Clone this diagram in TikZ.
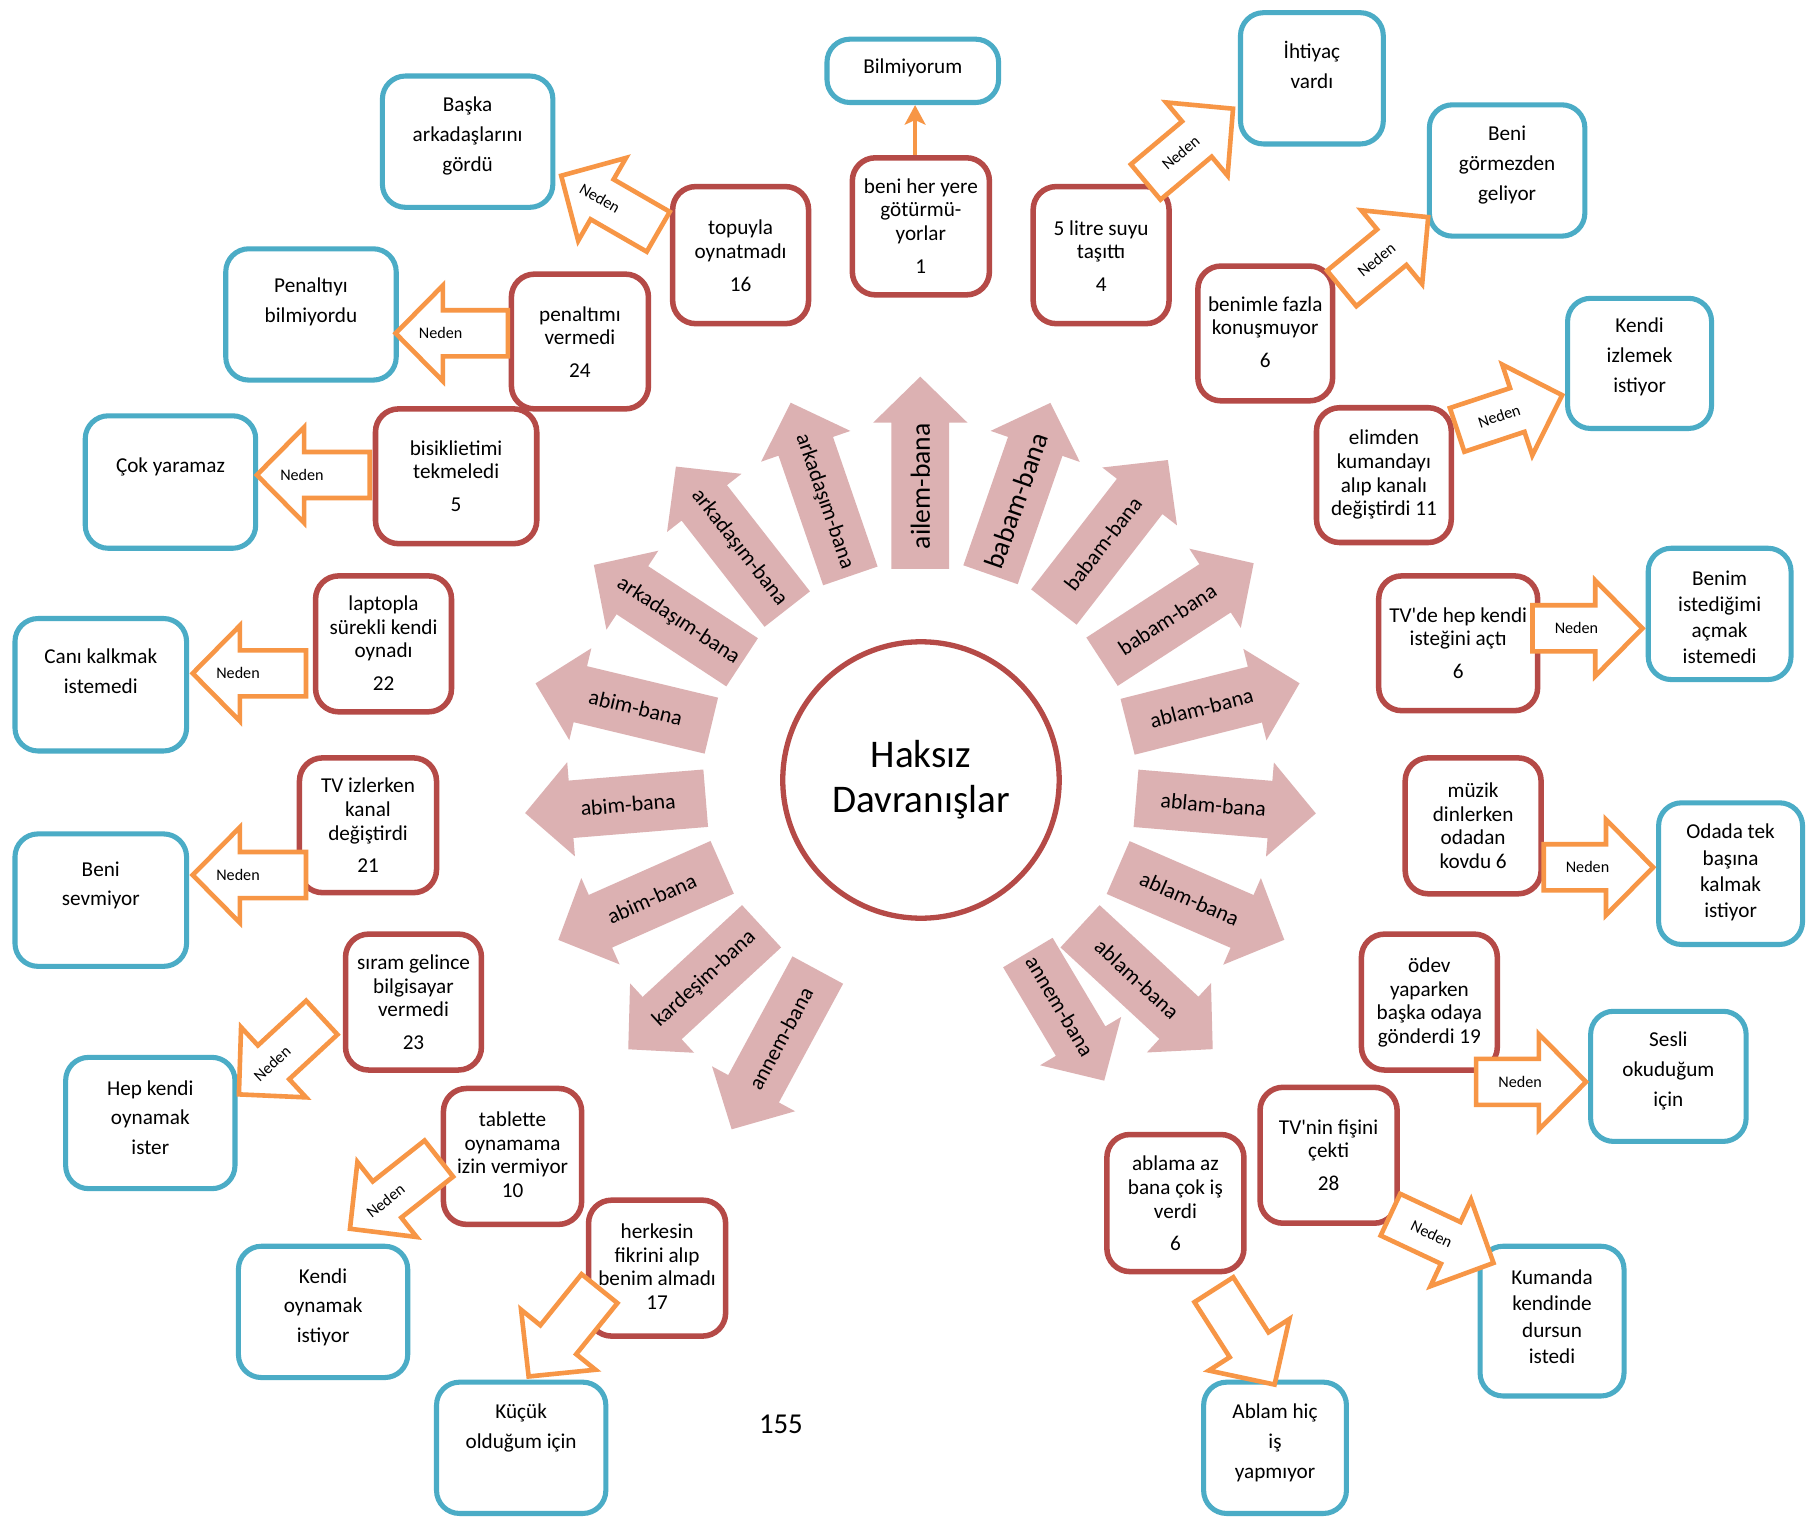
\documentclass[tikz,border=0pt]{standalone}
\usepackage{fontspec}
\setmainfont{Carlito}
\newfontfamily\carlplain{Carlito}
\newcommand{\apos}{{\carlplain'}}
\usetikzlibrary{fit,arrows.meta,calc}
\definecolor{rboxc}{RGB}{181,74,71}
\definecolor{bboxc}{RGB}{75,172,198}
\definecolor{orc}{RGB}{247,150,70}
\definecolor{pkc}{RGB}{220,177,178}
\tikzset{
 redbox/.style={draw=rboxc, line width=2.4pt, rounded corners=10pt, fill=white, inner sep=0pt},
 bluebox/.style={draw=bboxc, line width=2.2pt, rounded corners=10pt, fill=white, inner sep=0pt},
 rtxt/.style={align=center, inner sep=0pt, font=\fontsize{9.2}{10.25}\selectfont},
 btxt/.style={align=center, inner sep=0pt},
 pinkbody/.style={fill=pkc},
 orbody/.style={draw=orc, fill=white, line width=2pt, line join=miter},
 ptxt/.style={font=\fontsize{9.5}{11}\selectfont},
 pbig/.style={font=\fontsize{12}{14}\selectfont},
 otxt/.style={font=\fontsize{7}{8}\selectfont},
}
% block arrow: name, path style, text style, base x, base y, angle, length, text position, text
\newcommand{\blockarr}[9]{%
  \begin{scope}[shift={(#4,#5)},rotate=#6]
    \path[#2] (0,-\bhw) -- ({#7-\hdl},-\bhw) -- ({#7-\hdl},-\hhw) -- (#7,0) -- ({#7-\hdl},\hhw) -- ({#7-\hdl},\bhw) -- (0,\bhw) -- cycle;
    \node[transform shape,inner sep=0pt,#3] (#1) at ({#8*#7},0) {#9};
  \end{scope}}
\newcommand{\redbx}[7]{%
  \node[redbox,fit={({#2+2},{#3+2}) ({#4-2},{#5-2})}] (#1) {};
  \node[rtxt] (#1t) at ({(#2+#4)/2},#6) {#7};}
\newcommand{\bluebx}[8][13]{%
  \node[bluebox,fit={({#3+2},{#4+2}) ({#5-2},{#6-2})}] (#2) {};
  \node[btxt,font=\fontsize{9.2}{#1}\selectfont] (#2t) at ({(#3+#5)/2},#7) {#8};}
\begin{document}
\begin{tikzpicture}[x=0.5pt,y=-0.5pt]
\fill[white] (0,0) rectangle (1568,1318);
\useasboundingbox (0,0) rectangle (1568,1318);
% pink radial arrows
\def\bhw{25}\def\hhw{41}\def\hdl{40}
\blockarr{p1}{pinkbody}{pbig}{799}{494}{90}{167}{0.43}{ailem-bana}
\blockarr{p2}{pinkbody}{pbig}{860}{499}{70.8}{158}{0.43}{babam-bana}
\blockarr{p3}{pinkbody}{ptxt}{915}{527}{52.2}{161.5}{0.43}{babam-bana}
\blockarr{p4}{pinkbody}{ptxt}{956.8}{574.5}{33}{157}{0.43}{babam-bana}
\blockarr{p5}{pinkbody}{ptxt}{979}{631}{14.2}{154}{0.43}{ablam-bana}
\blockarr{p6}{pinkbody}{ptxt}{986.3}{693.1}{-4.8}{156.7}{0.43}{ablam-bana}
\blockarr{p7}{pinkbody}{ptxt}{970.8}{753.2}{-23.5}{157.3}{0.43}{ablam-bana}
\blockarr{p8}{pinkbody}{ptxt}{937.7}{804.2}{-42.8}{157}{0.43}{ablam-bana}
\blockarr{p9}{pinkbody}{ptxt}{892.4}{827}{-59.2}{129.5}{0.42}{annem-bana}
\blockarr{p10}{pinkbody}{ptxt,rotate=180}{710}{842.2}{-118.4}{157.2}{0.43}{annem-bana}
\blockarr{p11}{pinkbody}{ptxt,rotate=180}{661.2}{804.2}{-137.3}{157.5}{0.43}{kardeşim-bana}
\blockarr{p12}{pinkbody}{ptxt,rotate=180}{627}{753}{-156.1}{155.6}{0.43}{abim-bana}
\blockarr{p13}{pinkbody}{ptxt,rotate=180}{612.7}{693}{-175.3}{157.3}{0.43}{abim-bana}
\blockarr{p14}{pinkbody}{ptxt,rotate=180}{617.6}{630}{166.5}{157}{0.43}{abim-bana}
\blockarr{p15}{pinkbody}{ptxt,rotate=180}{644.3}{575}{146.7}{154}{0.43}{arkadaşım-bana}
\blockarr{p16}{pinkbody}{ptxt,rotate=180}{683.5}{528.8}{128}{157}{0.43}{arkadaşım-bana}
\blockarr{p17}{pinkbody}{ptxt,rotate=180}{738.3}{500}{109}{159}{0.43}{arkadaşım-bana}
% centre
\node[circle, draw=rboxc, line width=2.3pt, fill=white, minimum size=120pt, inner sep=0pt, align=center, font=\fontsize{17}{19.5}\selectfont] (c) at (799.6,677.2) {Haksız\\Davranışlar};
% red boxes
\redbx{r1}{738}{135}{861}{258}{196.2}{beni her yere\\götürmü-\\yorlar\\[4pt]1}
\redbx{r2}{582}{160}{704}{283}{222.2}{topuyla\\oynatmadı\\[4pt]16}
\redbx{r3}{895}{160}{1017}{283}{222.2}{5 litre suyu\\taşıttı\\[4pt]4}
\redbx{r4}{442}{236}{565}{357}{297}{penaltımı\\vermedi\\[4pt]24}
\redbx{r5}{1038}{229}{1159}{350}{288.5}{benimle fazla\\konuşmuyor\\[4pt]6}
\redbx{r6}{324}{353}{468}{474}{413.3}{bisiklietimi\\tekmeledi\\[4pt]5}
\redbx{r7}{1141}{352}{1262}{473}{412.2}{elimden\\kumandayı\\alıp kanalı\\değiştirdi 11}
\redbx{r8}{272}{498}{394}{620}{558.5}{laptopla\\sürekli kendi\\oynadı\\[4pt]22}
\redbx{r9}{1195}{498}{1337}{619}{558.2}{TV\apos de hep kendi\\isteğini açtı\\[4pt]6}
\redbx{r10}{258}{656}{381}{777}{716.7}{TV izlerken\\kanal\\değiştirdi\\[4pt]21}
\redbx{r11}{1218}{656}{1340}{778}{716.9}{müzik\\dinlerken\\odadan\\kovdu 6}
\redbx{r12}{298}{809}{420}{931}{870.2}{sıram gelince\\bilgisayar\\vermedi\\[4pt]23}
\redbx{r13}{1180}{809}{1302}{931}{870.4}{ödev\\yaparken\\başka odaya\\gönderdi 19}
\redbx{r14}{383}{943}{507}{1065}{1002.5}{tablette\\oynamama\\izin vermiyor\\10}
\redbx{r15}{1092}{942}{1215}{1064}{1003}{TV\apos nin fişini\\çekti\\[4pt]28}
\redbx{r16}{509}{1040}{632}{1162}{1099.8}{herkesin\\fikrini alıp\\benim almadı\\17}
\redbx{r17}{959}{983}{1082}{1106}{1044.9}{ablama az\\bana çok iş\\verdi\\[4pt]6}
% blue boxes
\bluebx{b1}{716}{32}{869}{91}{58.8}{Bilmiyorum}
\bluebx{b2}{330}{64}{482}{182}{118}{Başka\\arkadaşlarını\\gördü}
\bluebx{b3}{1075}{9}{1203}{127}{56}{İhtiyaç\\vardı}
\bluebx{b4}{1239}{89}{1378}{207}{143.5}{Beni\\görmezden\\geliyor}
\bluebx{b5}{194}{214}{346}{332}{262.2}{Penaltıyı\\bilmiyordu}
\bluebx{b6}{1359}{257}{1488}{374}{310}{Kendi\\izlemek\\istiyor}
\bluebx{b7}{72}{359}{224}{478}{405.7}{Çok yaramaz}
\bluebx[11.4]{b8}{1429}{474}{1557}{592}{535.9}{Benim\\istediğimi\\açmak\\istemedi}
\bluebx{b9}{11}{535}{164}{654}{582.9}{Canı kalkmak\\istemedi}
\bluebx[11.4]{b10}{1438}{695}{1567}{822}{757.5}{Odada tek\\başına\\kalmak\\istiyor}
\bluebx{b11}{11}{722}{164}{841}{768.7}{Beni\\sevmiyor}
\bluebx{b12}{1379}{876}{1518}{993}{930}{Sesli\\okuduğum\\için}
\bluebx{b13}{55}{916}{206}{1034}{970.4}{Hep kendi\\oynamak\\ister}
\bluebx{b14}{205}{1080}{356}{1198}{1135}{Kendi\\oynamak\\istiyor}
\bluebx[11.4]{b15}{1283}{1080}{1412}{1214}{1143.2}{Kumanda\\kendinde\\dursun\\istedi}
\bluebx{b16}{377}{1198}{528}{1316}{1239.9}{Küçük\\olduğum için}
\bluebx{b17}{1043}{1198}{1171}{1316}{1253}{Ablam hiç\\iş\\yapmıyor}
% orange "Neden" arrows
\def\bhw{20}\def\hhw{41.5}\def\hdl{41}
\blockarr{o2}{orbody}{otxt,rotate=180}{571.5}{201.2}{150}{97.3}{0.6}{Neden}
\blockarr{o3}{orbody}{otxt}{994.7}{158}{40}{99}{0.4}{Neden}
\blockarr{o4}{orbody}{otxt,rotate=180}{441}{289.4}{180}{97.5}{0.6}{Neden}
\blockarr{o5}{orbody}{otxt}{1164.9}{250.4}{39.5}{97.3}{0.4}{Neden}
\blockarr{o6}{orbody}{otxt,rotate=180}{321}{412.4}{180}{98}{0.6}{Neden}
\blockarr{o7}{orbody}{otxt}{1265.1}{373.2}{18.3}{96}{0.4}{Neden}
\blockarr{o8}{orbody}{otxt,rotate=180}{265.7}{584.6}{180}{98.4}{0.6}{Neden}
\blockarr{o9}{orbody}{otxt}{1330.5}{545.5}{0}{95.5}{0.4}{Neden}
\blockarr{o10}{orbody}{otxt,rotate=180}{265.7}{759.7}{180}{98.4}{0.6}{Neden}
\blockarr{o11}{orbody}{otxt}{1340.3}{753}{0}{95}{0.4}{Neden}
\blockarr{o12}{orbody}{otxt,rotate=180}{279.4}{883.5}{-137.2}{98.1}{0.6}{Neden}
\blockarr{o13}{orbody}{otxt}{1281.6}{939.3}{0}{95.4}{0.4}{Neden}
\blockarr{o14}{orbody}{otxt,rotate=180}{381}{1005.9}{-141.7}{98.3}{0.6}{Neden}
\blockarr{o15}{orbody}{otxt}{1207.2}{1054.6}{-25.1}{98.8}{0.4}{Neden}
\blockarr{o16}{orbody}{otxt}{520.5}{1118.8}{-128.9}{98}{0.5}{}
\blockarr{o17}{orbody}{otxt}{1053.9}{1119.7}{-57.4}{97.8}{0.5}{}
% thin arrow r1 -> b1
\coordinate (o1s) at ([xshift=-2.5pt]r1.north);
\coordinate (o1e) at (o1s |- b1.south);
\draw[draw=orc, line width=1.6pt, -{Stealth[length=8.5pt,width=9pt,inset=2pt]}] (o1s) -- (o1e);
% page number
\node[font=\fontsize{12.5}{14}\selectfont, inner sep=0pt] (pg) at (678,1237) {155};
\end{tikzpicture}
\end{document}
